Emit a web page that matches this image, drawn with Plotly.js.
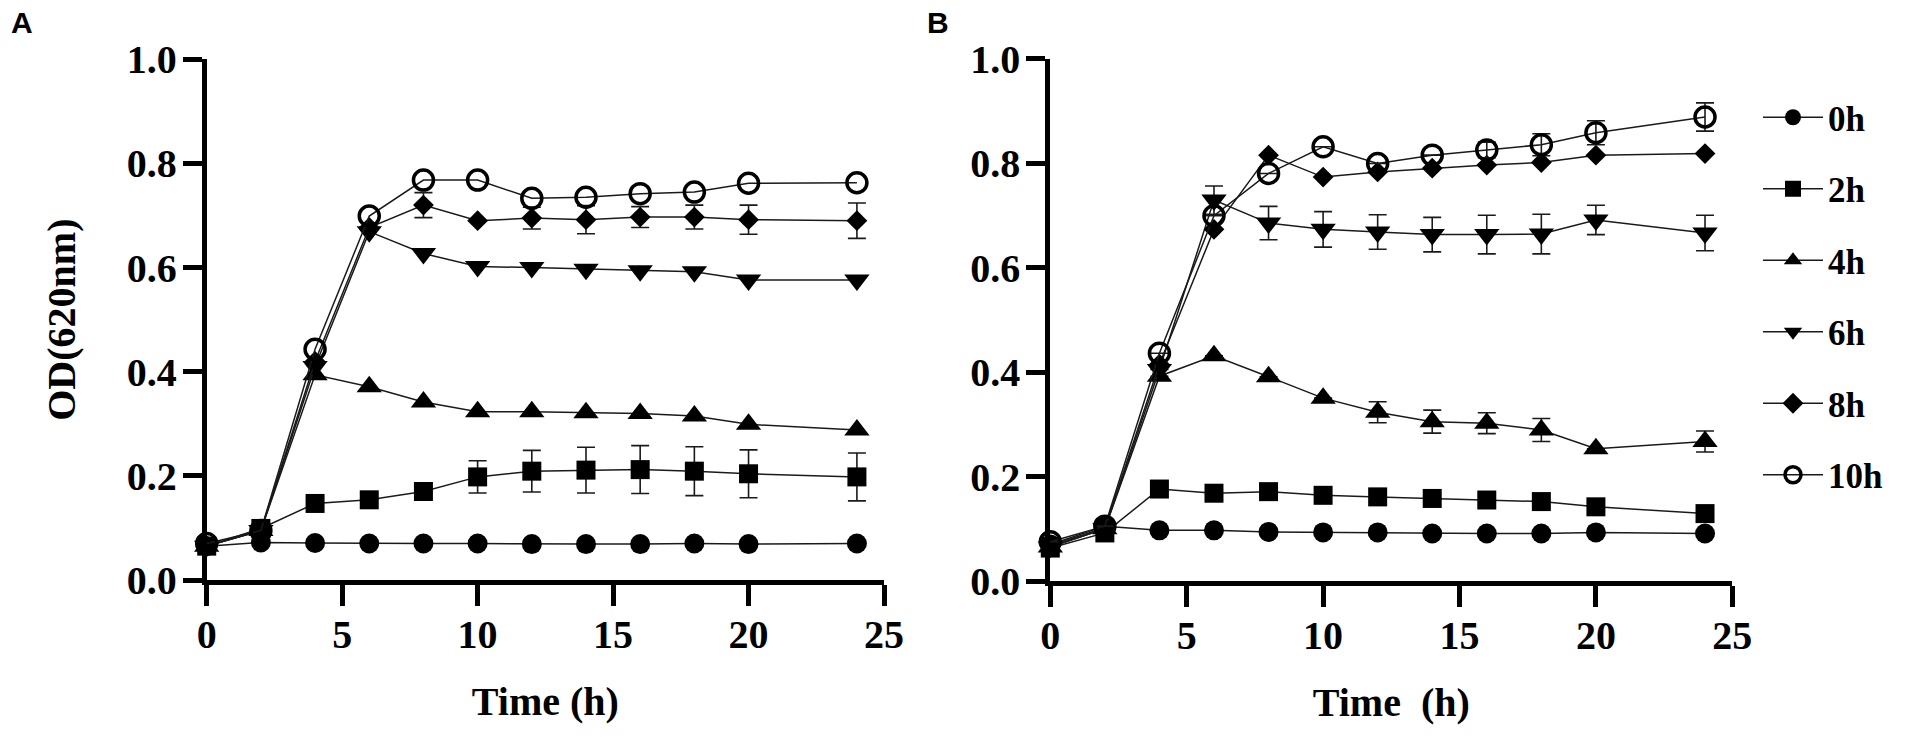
<!DOCTYPE html>
<html>
<head>
<meta charset="utf-8">
<script src="https://cdn.plot.ly/plotly-3.0.1.min.js"></script>
<style>
  html, body { margin: 0; padding: 0; background: #fff; }
  #chart { width: 1910px; height: 737px; }
</style>
</head>
<body>
<div id="chart"></div>
<script>
// ---- data ----
const time = [0, 2, 4, 6, 8, 10, 12, 14, 16, 18, 20, 24];
const seriesNames = ["0h", "2h", "4h", "6h", "8h", "10h"];

// Panel A
const a0h  = [0.065, 0.072, 0.071, 0.070, 0.070, 0.070, 0.069, 0.069, 0.069, 0.070, 0.069, 0.070];
const a2h  = [0.065, 0.099, 0.147, 0.154, 0.170, 0.198, 0.209, 0.211, 0.212, 0.209, 0.204, 0.198];
const a4h  = [0.065, 0.095, 0.394, 0.371, 0.342, 0.323, 0.323, 0.321, 0.320, 0.315, 0.299, 0.288];
const a6h  = [0.065, 0.095, 0.410, 0.669, 0.627, 0.602, 0.600, 0.597, 0.594, 0.592, 0.576, 0.576];
const a8h  = [0.065, 0.095, 0.420, 0.677, 0.720, 0.690, 0.695, 0.692, 0.697, 0.697, 0.692, 0.690];
const a10h = [0.070, 0.095, 0.443, 0.699, 0.768, 0.768, 0.733, 0.735, 0.742, 0.745, 0.762, 0.763];
const a2hErr = [null, null, null, null, null, 0.031, 0.040, 0.044, 0.046, 0.047, 0.046, 0.046];
const a8hErr = [null, null, null, null, 0.024, null, 0.021, 0.027, 0.020, 0.023, 0.028, 0.034];

// Panel B
const b0h  = [0.070, 0.105, 0.097, 0.097, 0.094, 0.093, 0.093, 0.091, 0.091, 0.091, 0.093, 0.091];
const b2h  = [0.063, 0.092, 0.176, 0.168, 0.171, 0.164, 0.161, 0.158, 0.155, 0.152, 0.142, 0.129];
const b4h  = [0.065, 0.100, 0.392, 0.431, 0.391, 0.350, 0.323, 0.305, 0.302, 0.289, 0.253, 0.267];
const b6h  = [0.065, 0.100, 0.405, 0.729, 0.685, 0.673, 0.668, 0.663, 0.663, 0.664, 0.691, 0.666];
const b8h  = [0.068, 0.102, 0.415, 0.673, 0.815, 0.773, 0.783, 0.790, 0.796, 0.801, 0.815, 0.818];
const b10h = [0.075, 0.105, 0.436, 0.699, 0.780, 0.831, 0.799, 0.815, 0.825, 0.835, 0.858, 0.888];
const b4hErr  = [null, null, null, null, null, null, 0.020, 0.022, 0.020, 0.022, null, 0.020];
const b6hErr  = [null, null, null, 0.027, 0.032, 0.034, 0.033, 0.033, 0.037, 0.038, 0.028, 0.034];
const b10hErr = [null, null, null, null, null, null, null, null, 0.015, 0.021, 0.023, 0.027];

const xTicks = [0, 5, 10, 15, 20, 25];
const yTicks = [0, 0.2, 0.4, 0.6, 0.8, 1.0];
const yTickText = ["0.0", "0.2", "0.4", "0.6", "0.8", "1.0"];

// ---- styling ----
const FONT = '"Liberation Serif", "Times New Roman", serif';
const symbols = ["circle", "square", "triangle-up", "triangle-down", "diamond", "circle-open"];
const sizes = [20, 19, 22, 22, 16, 20];

const panelA = [a0h, a2h, a4h, a6h, a8h, a10h];
const panelB = [b0h, b2h, b4h, b6h, b8h, b10h];
const errA = [null, a2hErr, null, null, a8hErr, null];
const errB = [null, null, b4hErr, b6hErr, null, b10hErr];

function makeTrace(ys, err, i, xa, ya, show) {
  const t = {
    type: "scatter",
    mode: "lines+markers",
    x: time,
    y: ys,
    name: seriesNames[i],
    legendgroup: seriesNames[i],
    showlegend: show,
    xaxis: xa,
    yaxis: ya,
    cliponaxis: false,
    line: { color: "#1a1a1a", width: 1.5 },
    marker: {
      symbol: symbols[i],
      size: sizes[i],
      color: "#000",
      line: { color: "#000", width: i === 5 ? 3.5 : 0 }
    }
  };
  if (err) {
    t.error_y = { type: "data", array: err, visible: true, color: "#1a1a1a", thickness: 1.6, width: 9 };
  }
  return t;
}

const traces = [];
for (let i = 0; i < 6; i++) traces.push(makeTrace(panelA[i], errA[i], i, "x", "y", true));
for (let i = 0; i < 6; i++) traces.push(makeTrace(panelB[i], errB[i], i, "x2", "y2", false));

const W = 1910, H = 737;
const TICKFONT = { family: FONT, size: 40, color: "#000", weight: "bold" };
const TITLEFONT = { family: FONT, size: 40, color: "#000", weight: "bold" };
const axCommon = {
  showgrid: false, zeroline: false, showline: true,
  linecolor: "#000", linewidth: 5,
  ticks: "outside", tickcolor: "#000", tickwidth: 5,
  tickfont: TICKFONT,
  fixedrange: true
};

const xA = Object.assign({}, axCommon, {
  domain: [206.7 / W, 884 / W], range: [0, 25],
  tickmode: "array", tickvals: xTicks, ticklen: 21, ticklabelstandoff: -6,
  anchor: "y",
  title: { text: "Time (h)", font: TITLEFONT, standoff: 32 }
});
const yA = Object.assign({}, axCommon, {
  domain: [1 - 580 / H, 1 - 59.3 / H], range: [0, 1],
  tickmode: "array", tickvals: yTicks, ticktext: yTickText, ticklen: 19, ticklabelstandoff: -2,
  anchor: "x",
  title: { text: "OD(620nm)", font: TITLEFONT, standoff: 40 }
});
const xB = Object.assign({}, axCommon, {
  domain: [1050.3 / W, 1732.3 / W], range: [0, 25],
  tickmode: "array", tickvals: xTicks, ticklen: 21, ticklabelstandoff: -6,
  anchor: "y2",
  title: { text: "Time\u00a0\u00a0(h)", font: TITLEFONT, standoff: 32 }
});
const yB = Object.assign({}, axCommon, {
  domain: [1 - 581 / H, 1 - 58.5 / H], range: [0, 1],
  tickmode: "array", tickvals: yTicks, ticktext: yTickText, ticklen: 19, ticklabelstandoff: -2,
  anchor: "x2"
});

const layout = {
  width: W, height: H,
  margin: { l: 0, r: 0, t: 0, b: 0, pad: 0 },
  paper_bgcolor: "#fff", plot_bgcolor: "rgba(0,0,0,0)",
  showlegend: true,
  font: { family: FONT, color: "#000" },
  xaxis: xA, yaxis: yA, xaxis2: xB, yaxis2: yB,
  legend: {
    x: 1758 / W, y: 1 - 88 / H, xanchor: "left", yanchor: "top",
    font: { family: FONT, size: 35, color: "#000", weight: "bold" },
    tracegroupgap: 23, itemwidth: 60,
    bgcolor: "rgba(0,0,0,0)", borderwidth: 0
  },
  annotations: [
    { text: "A", x: 9 / W, y: 1 - 22.5 / H, xref: "paper", yref: "paper", xanchor: "left", yanchor: "middle",
      showarrow: false, font: { family: '"Liberation Sans", Arial, sans-serif', size: 30, color: "#000", weight: "bold" } },
    { text: "B", x: 925 / W, y: 1 - 22.5 / H, xref: "paper", yref: "paper", xanchor: "left", yanchor: "middle",
      showarrow: false, font: { family: '"Liberation Sans", Arial, sans-serif', size: 30, color: "#000", weight: "bold" } }
  ]
};

Plotly.newPlot("chart", traces, layout, { displayModeBar: false, staticPlot: true });
</script>
</body>
</html>
